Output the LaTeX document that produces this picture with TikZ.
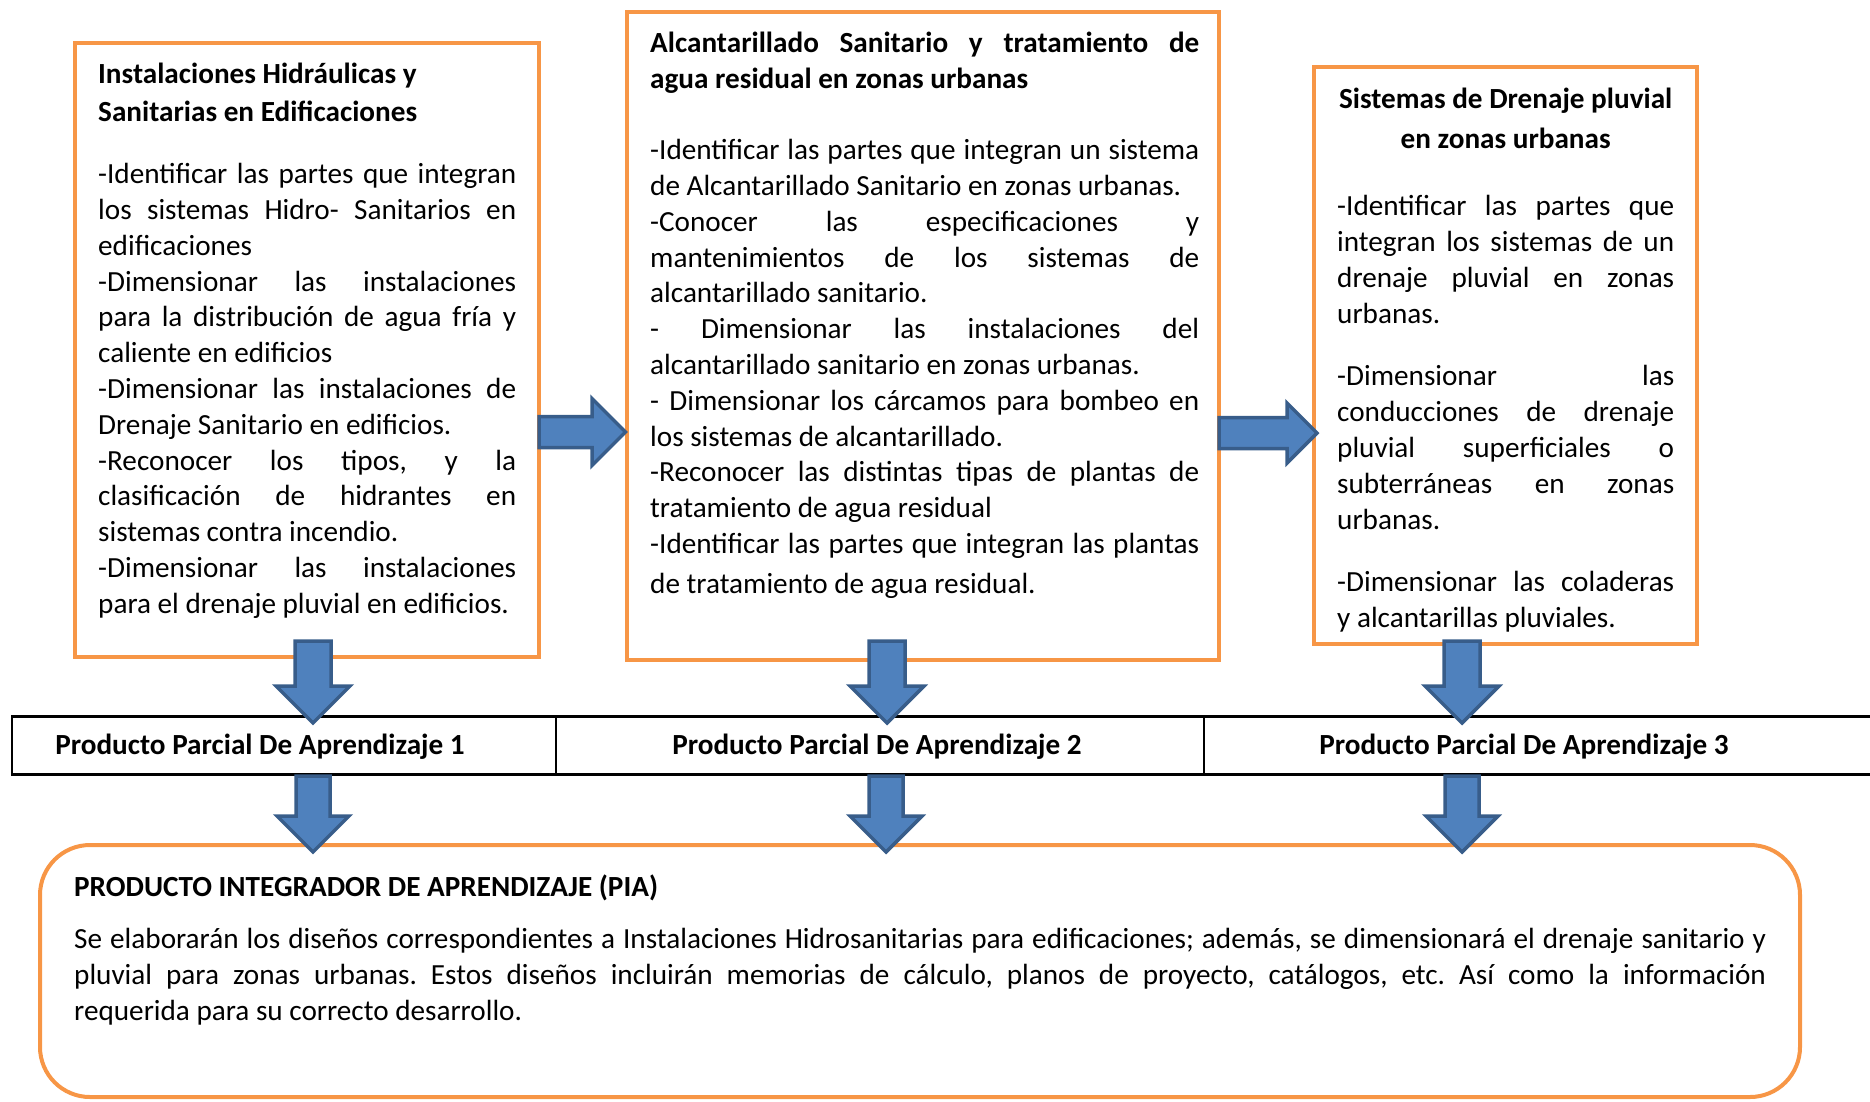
\documentclass[tikz,border=0pt]{standalone}
\usepackage{fontspec}
\setmainfont{Carlito}
\frenchspacing

\definecolor{naranja}{HTML}{F79646}
\definecolor{azul}{HTML}{4F81BD}
\definecolor{azulosc}{HTML}{385D8A}

\newcommand\espacio{\spaceskip=.226em plus .15em minus .07em\relax\xspaceskip=\spaceskip}
\newcommand\jl[1]{\makebox[\hsize][s]{#1}}
\newcommand\derecha[4]{\draw[flecha] #1 ++(0,-#4) -- ++(#2,0) -- ++(0,#4-#3) -- ++(#3,#3) -- ++(-#3,#3) -- ++(0,#4-#3) -- ++(-#2,0) -- cycle;}
\newcommand\abajo[4]{\draw[flecha] #1 ++(-#4,0) -- ++(0,#2) -- ++(#4-#3,0) -- ++(#3,#3) -- ++(#3,-#3) -- ++(#4-#3,0) -- ++(0,-#2) -- cycle;}

\begin{document}
\begin{tikzpicture}[x=1pt,y=-1pt,
  tema/.style={draw=naranja,line width=4pt,outer sep=0pt,inner sep=0pt},
  celda/.style={draw=black,line width=2.5pt,outer sep=0pt,inner sep=0pt,minimum height=58pt},
  texto/.style={anchor=base west,inner sep=0pt,font=\fontsize{29.2}{35.8}\selectfont},
  etiqueta/.style={anchor=base,inner sep=0pt,font=\fontsize{29.2}{35.8}\selectfont\bfseries},
  flecha/.style={fill=azul,draw=azulosc,line width=3.5pt}]
  \useasboundingbox (0,0) rectangle (1870,1101);

  \node[tema,minimum width=464pt,minimum height=614pt] (hidro) at (307,350) {};
  \node[tema,minimum width=592pt,minimum height=648pt] (alcan) at (923,336) {};
  \node[tema,minimum width=383pt,minimum height=577pt] (pluv) at (1505.5,355.5) {};
  \node[tema,rounded corners=50pt,minimum width=1760pt,minimum height=252pt] (pia) at (920,971) {};

  \node[celda,minimum width=544pt] (ppa1) at (284,745.5) {};
  \node[celda,minimum width=648pt] (ppa2) at (880,745.5) {};
  \node[celda,minimum width=690pt] (ppa3) at (1549,745.5) {};
  \node[etiqueta] (l1) at (260,754) {Producto Parcial De Aprendizaje 1};
  \node[etiqueta] (l2) at (877,754) {Producto Parcial De Aprendizaje 2};
  \node[etiqueta] (l3) at (1524,754) {Producto Parcial De Aprendizaje 3};

  \node[texto,text width=418pt] (t1) at (98,83) {\espacio
    \textbf{Instalaciones Hidráulicas y}\\[3pt]
    \textbf{Sanitarias en Edificaciones}\\[26pt]
    \jl{-Identificar las partes que integran}\\
    \jl{los sistemas Hidro- Sanitarios en}\\
    edificaciones\\
    \jl{-Dimensionar las instalaciones}\\
    \jl{para la distribución de agua fría y}\\
    caliente en edificios\\
    \jl{-Dimensionar las instalaciones de}\\
    Drenaje Sanitario en edificios.\\
    \jl{-Reconocer los tipos, y la}\\
    \jl{clasificación de hidrantes en}\\
    sistemas contra incendio.\\
    \jl{-Dimensionar las instalaciones}\\
    para el drenaje pluvial en edificios.};

  \node[texto,text width=549pt] (t2) at (650,52) {\espacio
    \jl{\bfseries Alcantarillado Sanitario y tratamiento de}\\[1pt]
    \textbf{agua residual en zonas urbanas}\\[35pt]
    \jl{-Identificar las partes que integran un sistema}\\
    de Alcantarillado Sanitario en zonas urbanas.\\
    \jl{-Conocer las especificaciones y}\\
    \jl{mantenimientos de los sistemas de}\\
    alcantarillado sanitario.\\
    \jl{- Dimensionar las instalaciones del}\\
    alcantarillado sanitario en zonas urbanas.\\
    \jl{- Dimensionar los cárcamos para bombeo en}\\
    los sistemas de alcantarillado.\\
    \jl{-Reconocer las distintas tipas de plantas de}\\
    tratamiento de agua residual\\
    \jl{-Identificar las partes que integran las plantas}\\[4pt]
    de tratamiento de agua residual.};

  \node[texto,text width=337pt] (t3) at (1337,108) {\espacio
    \makebox[\hsize]{\bfseries Sistemas de Drenaje pluvial}\\[5pt]
    \makebox[\hsize]{\bfseries en zonas urbanas}\\[31pt]
    \jl{-Identificar las partes que}\\
    \jl{integran los sistemas de un}\\
    \jl{drenaje pluvial en zonas}\\
    urbanas.\\[27pt]
    \jl{-Dimensionar las}\\
    \jl{conducciones de drenaje}\\
    \jl{pluvial superficiales o}\\
    \jl{subterráneas en zonas}\\
    urbanas.\\[27pt]
    \jl{-Dimensionar las coladeras}\\
    y alcantarillas pluviales.};

  \node[texto,text width=1692pt] (t4) at (74,896) {\espacio
    \textbf{PRODUCTO INTEGRADOR DE APRENDIZAJE (PIA)}\\[17pt]
    \jl{Se elaborarán los diseños correspondientes a Instalaciones Hidrosanitarias para edificaciones; además, se dimensionará el drenaje sanitario y}\\
    \jl{pluvial para zonas urbanas. Estos diseños incluirán memorias de cálculo, planos de proyecto, catálogos, etc. Así como la información}\\
    requerida para su correcto desarrollo.};

  \coordinate (r1) at (hidro.east |- 0,432);
  \coordinate (r2) at (alcan.east |- 0,433);
  \derecha{(r1)}{53}{33.5}{15.5}
  \derecha{(r2)}{68}{30}{15.5}

  \abajo{(313,641)}{45}{37}{18}
  \abajo{(887,641)}{45}{37}{18}
  \abajo{(1462,641)}{45}{37}{18}
  \abajo{(313,776)}{40}{36}{17}
  \abajo{(886,776)}{40}{36}{17}
  \abajo{(1462,776)}{40}{36}{17}
\end{tikzpicture}
\end{document}
